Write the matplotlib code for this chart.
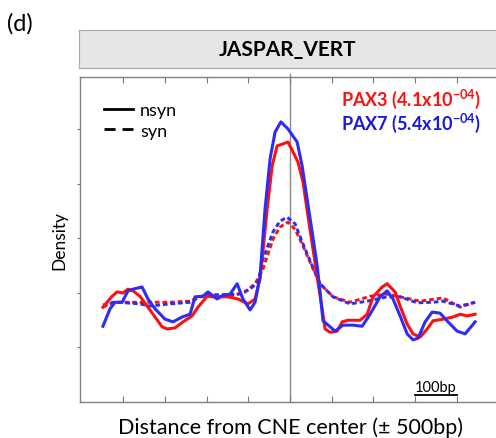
import numpy as np
import matplotlib
matplotlib.use("Agg")
from matplotlib import pyplot as plt
from matplotlib.lines import Line2D

plt.rcParams['font.family'] = ['Lato', 'DejaVu Sans']
plt.rcParams['mathtext.fontset'] = 'custom'
plt.rcParams['mathtext.rm'] = 'Lato'
plt.rcParams['mathtext.bf'] = 'Lato:bold'

# positions in bp from the CNE center, densities
pax3_nsyn_x = [-449, -427, -415, -401, -389, -377, -360, -343, -324, -307, -295, -276, -257, -235,
               -221, -199, -185, -149, -125, -101, -84, -72, -67, -55, -43, -31, -19, -5, 7, 19,
               31, 43, 55, 67, 77, 84, 96, 113, 125, 139, 168, 185, 199, 221, 233, 252, 264, 281,
               295, 312, 329, 343, 367, 391, 408, 425, 444]
pax3_nsyn_y = [1.74, 1.94, 2.02, 2.00, 2.07, 2.04, 1.94, 1.76, 1.56, 1.38, 1.34, 1.36, 1.47, 1.58,
               1.74, 1.94, 1.93, 1.93, 1.89, 1.80, 1.89, 2.26, 2.62, 3.54, 4.33, 4.70, 4.73, 4.77,
               4.59, 4.40, 4.04, 3.41, 2.81, 2.20, 1.71, 1.34, 1.28, 1.30, 1.47, 1.50, 1.50, 1.61,
               1.93, 2.11, 2.17, 2.02, 1.76, 1.43, 1.25, 1.19, 1.34, 1.49, 1.52, 1.56, 1.61, 1.58,
               1.61]

pax7_nsyn_x = [-449, -432, -420, -403, -389, -377, -355, -341, -324, -300, -281, -259, -240, -228,
               -209, -197, -175, -161, -144, -127, -113, -96, -84, -72, -60, -48, -36, -22, -5,
               17, 29, 41, 53, 65, 72, 79, 96, 108, 127, 151, 173, 192, 216, 233, 247, 264, 281,
               295, 307, 324, 341, 360, 379, 401, 420, 444]
pax7_nsyn_y = [1.39, 1.71, 1.83, 1.83, 2.04, 2.07, 2.11, 1.89, 1.71, 1.52, 1.47, 1.56, 1.61, 1.93,
               1.94, 2.02, 1.89, 1.96, 1.98, 2.17, 1.89, 1.69, 1.83, 2.31, 3.54, 4.46, 4.95, 5.14,
               5.01, 4.77, 4.33, 3.72, 3.12, 2.50, 2.02, 1.49, 1.38, 1.30, 1.41, 1.41, 1.39, 1.61,
               1.93, 2.04, 1.89, 1.58, 1.25, 1.14, 1.17, 1.47, 1.65, 1.63, 1.47, 1.30, 1.25, 1.47]

pax3_syn_x = [-449, -425, -384, -336, -288, -240, -216, -192, -144, -108, -84, -65, -41, -24, -5,
              12, 29, 53, 72, 103, 144, 192, 233, 264, 312, 367, 408, 444]
pax3_syn_y = [1.74, 1.83, 1.83, 1.83, 1.83, 1.85, 1.93, 1.98, 1.94, 2.02, 2.17, 2.44, 2.99, 3.21,
              3.30, 3.17, 2.90, 2.48, 2.17, 1.93, 1.83, 1.94, 1.98, 1.93, 1.85, 1.91, 1.74, 1.83]

pax7_syn_x = [-449, -420, -396, -360, -336, -288, -240, -216, -180, -120, -96, -77, -65, -41, -24,
              -7, 12, 29, 53, 72, 103, 144, 185, 233, 264, 305, 343, 367, 408, 444]
pax7_syn_y = [1.78, 1.83, 1.82, 1.80, 1.76, 1.80, 1.83, 1.93, 1.96, 1.98, 2.07, 2.20, 2.62, 3.12,
              3.32, 3.39, 3.27, 2.94, 2.50, 2.17, 1.93, 1.80, 1.85, 1.93, 1.93, 1.82, 1.83, 1.85,
              1.76, 1.83]

x_ticks = [-400, -300, -200, -100, 0, 100, 200, 300, 400]
y_ticks = [1, 2, 3, 4, 5]
scale_bar = [300, 400]

red = '#ff1010'
blue = '#2c2cf5'

fig = plt.figure(figsize=(4.96, 4.39), dpi=100)
ax = fig.add_axes([0.1613, 0.082, 0.847, 0.740])

ax.plot(pax3_syn_x, pax3_syn_y, color=red, lw=2.1, dashes=(1.6, 1.0))
ax.plot(pax7_syn_x, pax7_syn_y, color=blue, lw=2.1, dashes=(1.6, 1.0))
ax.plot(pax3_nsyn_x, pax3_nsyn_y, color=red, lw=2.2)
ax.plot(pax7_nsyn_x, pax7_nsyn_y, color=blue, lw=2.2)
ax.axvline(0, color='#8a8a8a', lw=1.0, zorder=0, clip_on=False, ymax=1.01)

ax.set_xlim(-504, 504)
ax.set_ylim(0, 5.96)
ax.set_xticks(x_ticks)
ax.set_yticks(y_ticks)
ax.set_xticklabels([])
ax.set_yticklabels([])
ax.tick_params(axis='x', direction='in', top=True, length=4.5, width=0.8, color='#777777')
ax.tick_params(axis='y', direction='out', length=2.5, width=0.8, color='#777777')
for s in ax.spines.values():
    s.set_color('#808080')
    s.set_linewidth(1.0)

ax.set_ylabel('Density', fontsize=12.5, labelpad=3)
ax.set_xlabel('Distance from CNE center (\u00b1 500bp)', fontsize=15.5, labelpad=7)

# scale bar
ax.plot(scale_bar, [0.12, 0.12], color='black', lw=1.3)
ax.text(np.mean(scale_bar), 0.14, '100bp', ha='center', va='bottom', fontsize=10.5)

ax.text(0.955, 0.935, 'PAX3 (4.1x10$^{\\mathbf{-04}}$)', transform=ax.transAxes, color=red,
        fontsize=13, fontweight='bold', ha='right', va='center')
ax.text(0.955, 0.862, 'PAX7 (5.4x10$^{\\mathbf{-04}}$)', transform=ax.transAxes, color='#1818e0',
        fontsize=13, fontweight='bold', ha='right', va='center')

handles = [Line2D([], [], color='black', lw=2.0),
           Line2D([], [], color='black', lw=2.0, dashes=(4.0, 2.5))]
ax.legend(handles, ['nsyn', 'syn'], loc='upper left', bbox_to_anchor=(0.04, 0.945), frameon=False,
          fontsize=13, handlelength=1.6, handletextpad=0.4, labelspacing=0.25, borderaxespad=0)

# facet strip
strip = fig.add_axes([0.159, 0.843, 0.85, 0.0866])
strip.set_facecolor('#e6e6e6')
strip.set_xticks([])
strip.set_yticks([])
for s in strip.spines.values():
    s.set_color('#a8a8a8')
strip.text(0.496, 0.5, 'JASPAR_VERT', transform=strip.transAxes, ha='center', va='center',
           fontsize=15, fontweight='bold')

fig.text(0.04, 0.945, '(d)', fontsize=17, ha='center', va='center')

fig.savefig('out.png', dpi=100)
